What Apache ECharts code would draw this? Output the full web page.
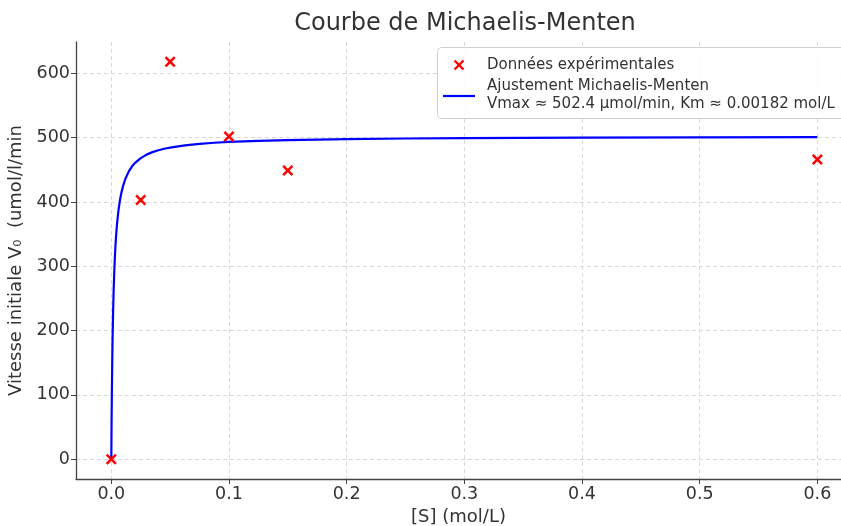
<!DOCTYPE html>
<html>
<head>
<meta charset="utf-8">
<script src="https://cdn.jsdelivr.net/npm/echarts@6/dist/echarts.min.js"></script>
<style>
html,body{margin:0;padding:0;background:#fff;}
#chart{width:841px;height:526px;}
</style>
</head>
<body>
<div id="chart"></div>
<script>
// Experimental data
var expS = [0, 0.025, 0.05, 0.1, 0.15, 0.6];
var expV = [0, 403, 618, 502, 449, 466];

// Fitted curve
var fitS = [0, 0.00025, 0.0005, 0.001, 0.0015, 0.002, 0.0025, 0.003, 0.0035, 0.004, 0.0045, 0.005, 0.006, 0.007, 0.0075, 0.0085, 0.01, 0.012, 0.015, 0.0175, 0.02, 0.025, 0.03, 0.035, 0.04, 0.045, 0.05, 0.0625, 0.075, 0.0875, 0.1, 0.125, 0.15, 0.2, 0.25, 0.3, 0.4, 0.5, 0.6];
var fitV = [0, 61.2, 108.3, 178.2, 227.0, 263.0, 290.6, 312.7, 330.5, 345.3, 357.7, 368.3, 385.5, 398.7, 404.3, 413.8, 425.0, 436.2, 448.0, 455.1, 460.5, 468.3, 473.7, 477.6, 480.5, 482.9, 484.7, 488.2, 490.5, 492.2, 493.4, 495.2, 496.4, 497.9, 498.8, 499.4, 500.1, 500.6, 500.9];

// Tick labels
var xTicks = [0, 0.1, 0.2, 0.3, 0.4, 0.5, 0.6];
var yTicks = [0, 100, 200, 300, 400, 500, 600];

var titleText = 'Courbe de Michaelis-Menten';
var xName = '[S] (mol/L)';
var yName = 'Vitesse initiale V\u2080  (umol/l/min';
var legendExp = 'Données expérimentales';
var legendFit1 = 'Ajustement Michaelis-Menten';
var legendFit2 = 'Vmax ≈ 502.4 µmol/min, Km ≈ 0.00182 mol/L';

var FONT = 'DejaVu Sans';
var TXT = '#333333';
var xPath = 'path://M0,1.6 L1.6,0 L5,3.4 L8.4,0 L10,1.6 L6.6,5 L10,8.4 L8.4,10 L5,6.6 L1.6,10 L0,8.4 L3.4,5 Z';

var chart = echarts.init(document.getElementById('chart'), null, {renderer: 'canvas'});

var option = {
  backgroundColor: '#ffffff',
  animation: false,
  title: {
    text: titleText,
    left: 460, textAlign: 'center', top: 7,
    textStyle: {fontFamily: FONT, fontSize: 24, fontWeight: 'normal', color: TXT}
  },
  grid: {left: 76, top: 42, width: 765, height: 437, containLabel: false, outerBoundsMode: 'none'},
  xAxis: {
    type: 'value', min: -0.03, max: 0.6201,
    name: xName, nameLocation: 'middle', nameGap: 27,
    nameTextStyle: {fontFamily: FONT, fontSize: 18, color: TXT, verticalAlign: 'top'},
    axisLine: {show: true, onZero: false, lineStyle: {color: '#444', width: 1.3}},
    axisTick: {show: true, inside: false, length: 5, customValues: xTicks, lineStyle: {color: '#444', width: 1}},
    axisLabel: {customValues: xTicks, margin: 6, fontFamily: FONT, fontSize: 17.5, color: TXT,
      formatter: function (v) { return v.toFixed(1); }},
    splitLine: {show: true, lineStyle: {color: '#d5d5d5', type: [4, 3], width: 0.9}}
  },
  yAxis: {
    type: 'value', min: -30.9, max: 648.9,
    name: yName, nameLocation: 'middle', nameGap: 48,
    nameTextStyle: {fontFamily: FONT, fontSize: 18, color: TXT},
    axisLine: {show: true, onZero: false, lineStyle: {color: '#444', width: 1.3}},
    axisTick: {show: true, inside: false, length: 5, customValues: yTicks, lineStyle: {color: '#444', width: 1}},
    axisLabel: {customValues: yTicks, margin: 6, fontFamily: FONT, fontSize: 17.5, color: TXT},
    splitLine: {show: true, lineStyle: {color: '#d5d5d5', type: [4, 3], width: 0.9}}
  },
  series: [
    {
      name: legendFit1, type: 'line', smooth: false, showSymbol: false, symbol: 'none',
      data: fitS.map(function (s, i) { return [s, fitV[i]]; }),
      lineStyle: {color: '#0000ff', width: 2.2}, z: 2
    },
    {
      name: legendExp, type: 'scatter', symbol: xPath, symbolSize: 11,
      data: expS.map(function (s, i) { return [s, expV[i]]; }),
      itemStyle: {color: '#ff0000', opacity: 1}, z: 3
    }
  ],
  graphic: [
    {type: 'rect', z: 100, shape: {x: 437.5, y: 47.5, width: 430, height: 71, r: 4},
      style: {fill: 'rgba(255,255,255,0.85)', stroke: '#d0d0d0', lineWidth: 1}},
    {type: 'line', z: 101, shape: {x1: 454.5, y1: 60.5, x2: 463.5, y2: 69.5}, style: {stroke: '#ff0000', lineWidth: 2.4}},
    {type: 'line', z: 101, shape: {x1: 463.5, y1: 60.5, x2: 454.5, y2: 69.5}, style: {stroke: '#ff0000', lineWidth: 2.4}},
    {type: 'text', z: 101, style: {x: 487, y: 65, text: legendExp, font: '15px "DejaVu Sans"', fill: TXT, verticalAlign: 'middle'}},
    {type: 'line', z: 101, shape: {x1: 443, y1: 96, x2: 475, y2: 96}, style: {stroke: '#0000ff', lineWidth: 2.2}},
    {type: 'text', z: 101, style: {x: 487, y: 86, text: legendFit1, font: '15px "DejaVu Sans"', fill: TXT, verticalAlign: 'middle'}},
    {type: 'text', z: 101, style: {x: 487, y: 104, text: legendFit2, font: '15px "DejaVu Sans"', fill: TXT, verticalAlign: 'middle'}}
  ]
};
chart.setOption(option);
</script>
</body>
</html>
